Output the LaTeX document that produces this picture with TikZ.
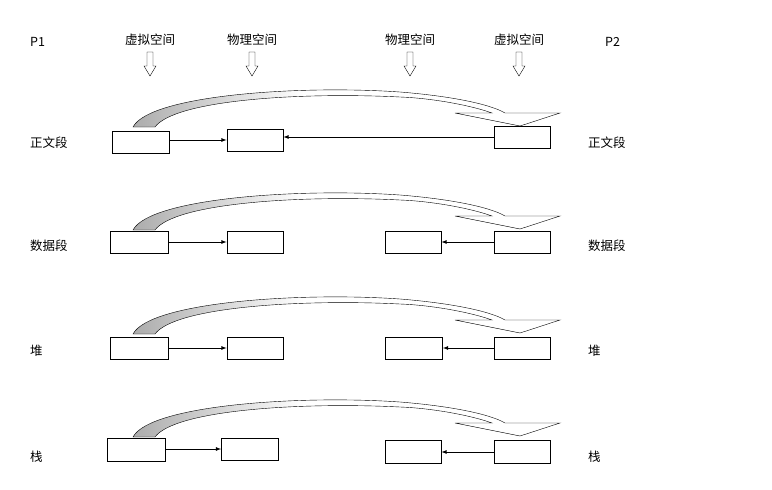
\documentclass[tikz,border=0pt]{standalone}
\usepackage{fontspec}
\setmainfont{Noto Sans CJK SC}
\pgfdeclarehorizontalshading{rb}{100bp}{color(0bp)=(gray!65); color(25bp)=(gray!65); color(45bp)=(white); color(100bp)=(white)}
\begin{document}
\begin{tikzpicture}[x=1pt,y=-1pt,
  bx/.style={draw,thick,fill=white,inner sep=0pt},
  lbl/.style={anchor=west,font=\fontsize{12.5}{14}\selectfont,inner sep=0pt},
  con/.style={-latex,thick},
  rib/.style={draw,thin,shading=rb}]
\useasboundingbox (0,0) rectangle (772,490);
\node[lbl] (p1) at (30,42) {P1};
\node[lbl] (p2) at (605,42) {P2};
\foreach \x/\t [count=\i] in {150/虚拟空间,252/物理空间,410/物理空间,519/虚拟空间}{
  \node[font=\fontsize{12.5}{14}\selectfont,inner sep=0pt] (h\i) at (\x,40) {\t};
  \draw[thin,fill=white] (\x-3,52) -- (\x+3,52) -- (\x+3,66) -- (\x+6,66) -- (\x,76) -- (\x-6,66) -- (\x-3,66) -- cycle;
}
\foreach \r/\ly/\d/\t in {1/143/0/正文段,2/246/103/数据段,3/351/207/堆,4/457/310/栈}{
  \node[lbl] (l\r) at (30,\ly) {\t};
  \node[lbl] (m\r) at (588,\ly) {\t};
  \draw[rib] (133,127+\d) .. controls (150,95+\d) and (300,85+\d) .. (400,92+\d)
     .. controls (450,96+\d) and (490,104+\d) .. (505,113+\d) -- (560,113+\d) -- (520,126+\d)
     -- (455,113+\d) -- (492,113+\d) .. controls (470,105+\d) and (430,98+\d) .. (400,97+\d)
     .. controls (300,92+\d) and (175,100+\d) .. (155,127+\d) -- cycle;
}
% row 1
\node[bx,minimum width=57,minimum height=22] (a1) at (140.5,142) {};
\node[bx,minimum width=56,minimum height=22] (b1) at (255,140) {};
\node[bx,minimum width=56,minimum height=22] (d1) at (522,137) {};
\draw[con] (a1.east |- b1) -- (b1.west);
\draw[con] (d1.west) -- (d1.west -| b1.east);
% row 2
\node[bx,minimum width=58,minimum height=22] (a2) at (139,242) {};
\node[bx,minimum width=56,minimum height=22] (b2) at (255,242) {};
\node[bx,minimum width=56,minimum height=22] (c2) at (413,242) {};
\node[bx,minimum width=56,minimum height=22] (d2) at (522,242) {};
\draw[con] (a2.east) -- (b2.west);
\draw[con] (d2.west) -- (c2.east);
% row 3
\node[bx,minimum width=58,minimum height=22] (a3) at (139,348) {};
\node[bx,minimum width=56,minimum height=22] (b3) at (255,348) {};
\node[bx,minimum width=57,minimum height=22] (c3) at (414,348) {};
\node[bx,minimum width=56,minimum height=22] (d3) at (522,348) {};
\draw[con] (a3.east) -- (b3.west);
\draw[con] (d3.west) -- (c3.east);
% row 4
\node[bx,minimum width=58,minimum height=23] (a4) at (136,450) {};
\node[bx,minimum width=57,minimum height=22] (b4) at (250,449) {};
\node[bx,minimum width=56,minimum height=23] (c4) at (413,452) {};
\node[bx,minimum width=56,minimum height=23] (d4) at (522,452) {};
\draw[con] (a4.east |- b4) -- (b4.west);
\draw[con] (d4.west) -- (c4.east);
\end{tikzpicture}
\end{document}
